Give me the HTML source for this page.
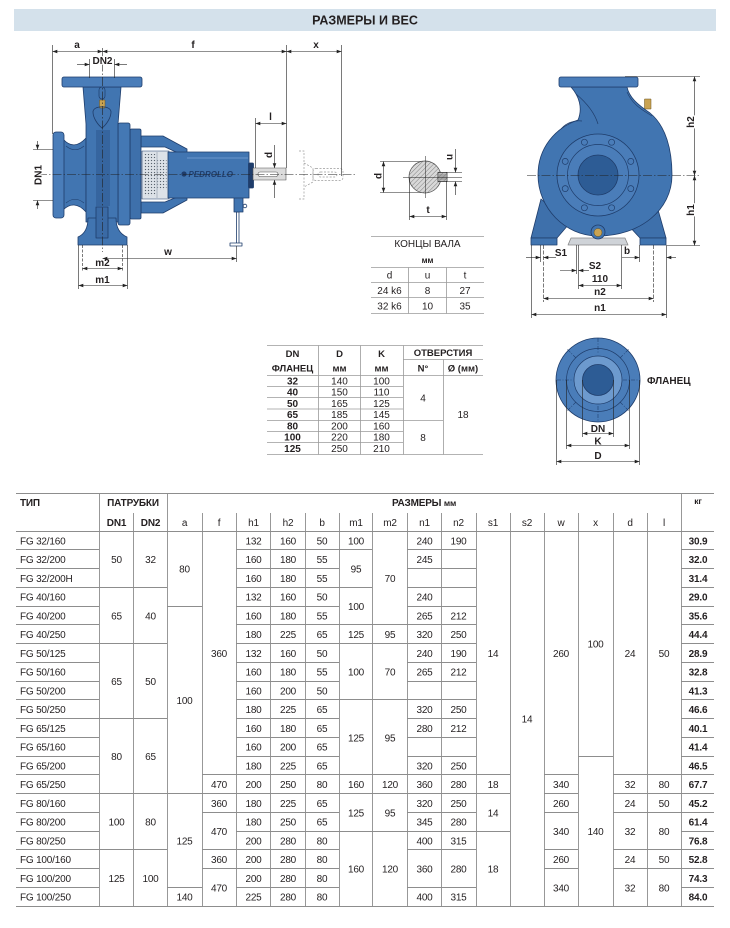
<!DOCTYPE html>
<html><head><meta charset="utf-8"><style>
html,body{margin:0;padding:0;background:#fff;}
svg{display:block;}
text{font-family:"Liberation Sans",sans-serif;fill:#231f20;}
.l{text-anchor:start;}
.b{font-weight:bold;}
</style></head><body>
<svg width="730" height="928" viewBox="0 0 730 928" xmlns="http://www.w3.org/2000/svg">
<defs>
<marker id="a" viewBox="0 0 8 6" refX="8" refY="3" markerWidth="5" markerHeight="3.6" orient="auto-start-reverse" markerUnits="userSpaceOnUse"><path d="M0,0L8,3L0,6z" fill="#222"/></marker>
<pattern id="dots" width="3" height="3" patternUnits="userSpaceOnUse"><circle cx="1.5" cy="1.5" r="0.65" fill="#59636e"/></pattern>
<pattern id="hatch" width="3.2" height="3.2" patternUnits="userSpaceOnUse" patternTransform="rotate(45)"><rect width="3.2" height="3.2" fill="#d8d8d8"/><line x1="0" y1="0" x2="0" y2="3.2" stroke="#6a6a6a" stroke-width="0.8"/></pattern>
</defs>

<!-- header bar -->
<rect x="14" y="9" width="702" height="22" fill="#d4e1eb"/>
<text x="365" y="24.5" text-anchor="middle" font-weight="bold" font-size="12.5">РАЗМЕРЫ И ВЕС</text>

<!-- ================= LEFT PUMP ================= -->
<g fill="none" stroke="#9a9a9a" stroke-width="0.7" stroke-dasharray="2,1.5">
<path d="M299,151 L304,151 L304,199 L299,199"/>
<path d="M304,163 L313,168 L313,182 L304,187"/>
<rect x="313" y="168.5" width="30" height="12" rx="3"/>
<rect x="318" y="172" width="19" height="5" rx="2.5"/>
</g>

<g stroke="#1f3d6b" stroke-width="0.8" stroke-linejoin="round">
<!-- bracket -->
<rect x="236.5" y="212" width="2.5" height="32" fill="#fff"/>
<rect x="230" y="243" width="12" height="3" fill="#fff"/>
<rect x="234" y="197" width="9" height="15" fill="#4175b1"/>
<circle cx="245" cy="206" r="1.8" fill="#fff"/>
<!-- lantern window -->
<rect x="142" y="151" width="27" height="48" fill="#dde2e8" stroke-width="0.6"/>
<rect x="143.5" y="154" width="13" height="42" fill="url(#dots)" stroke="none"/>
<rect x="157.5" y="160" width="9" height="30" fill="url(#dots)" stroke="none"/>
<line x1="157" y1="152" x2="157" y2="198" stroke="#8a96a4" stroke-width="0.6"/>
<!-- arms -->
<path d="M141,136 L163,136 L187,149 L187,157 L165,147 L141,147 Z" fill="#4175b1"/>
<path d="M141,213 L163,213 L187,200 L187,193 L165,202 L141,202 Z" fill="#4175b1"/>
<!-- bearing housing -->
<rect x="168" y="152" width="81" height="46" fill="#4175b1"/>
<line x1="187" y1="158" x2="248" y2="158" stroke="#5d8cc4" stroke-width="1.5"/>
<!-- back covers -->
<rect x="130" y="129" width="11" height="90" rx="1.5" fill="#3e70ab"/>
<rect x="118" y="123" width="12" height="102" rx="2" fill="#4478b4"/>
<!-- suction -->
<path d="M63,139 C70,147 78,147 86,138 L86,212 C78,203 70,203 63,210 Z" fill="#4175b1"/>
<path d="M66,146 C72,151 78,151 84,146 M66,203 C72,198 78,198 84,203" fill="none" stroke-width="0.6"/>
<rect x="53" y="132" width="11" height="86" rx="3" fill="#4a7db9"/>
<!-- volute vertical body -->
<path d="M83,87 L121,87 C120,100 119,112 118,124 L118,222 L86,222 L86,124 C85,112 84,100 83,87 Z" fill="#4175b1"/>
<rect x="96" y="130" width="14" height="76" fill="#36659f" stroke="none"/>
<path d="M88,218 L116,218 C116,228 120,234 127,237 L127,245 L78,245 L78,237 C85,234 88,228 88,218 Z" fill="#4175b1"/>
<rect x="96" y="207" width="12" height="31" fill="#3a6aa5"/>
<rect x="62" y="77" width="80" height="10" rx="2" fill="#4a7db9"/>
<!-- plug + loop -->
<rect x="99" y="87" width="6" height="12" rx="3" fill="none" stroke-width="0.7"/>
<rect x="99.5" y="100" width="5.5" height="8" fill="#c9a352" stroke="#6b5520" stroke-width="0.5"/>
<path d="M93,112 C93,105 111,105 111,112 C111,118 106,125 102,128 C98,125 93,118 93,112 Z" fill="none" stroke-width="0.8"/>
<!-- seal + shaft -->
<rect x="248.5" y="163" width="5" height="25" rx="1" fill="#1f3d6b"/>
<rect x="253" y="168" width="33" height="12" fill="#dcdcdc" stroke="#555" stroke-width="0.6"/>
<rect x="258" y="172" width="20" height="4.5" rx="2.2" fill="#fff" stroke="#555" stroke-width="0.6"/>
</g>
<circle cx="184" cy="174" r="2.6" fill="#1f3d6b"/>
<text x="188.5" y="177" font-size="8" font-weight="bold" font-style="italic" fill="#1f3d6b" style="fill:#1f3d6b">PEDROLLO</text>

<!-- center lines -->
<g stroke="#222" stroke-width="0.6" fill="none" stroke-dasharray="9,2,1.5,2">
<line x1="38" y1="174.5" x2="356" y2="174.5"/>
<line x1="102.5" y1="48" x2="102.5" y2="252"/>
</g>

<!-- left dims -->
<g stroke="#222" stroke-width="0.6" fill="none">
<line x1="52.5" y1="45" x2="52.5" y2="134"/>
<line x1="286.5" y1="45" x2="286.5" y2="168"/>
<line x1="341.5" y1="45" x2="341.5" y2="176"/>
<line x1="52.5" y1="51.5" x2="102.5" y2="51.5" marker-start="url(#a)" marker-end="url(#a)"/>
<line x1="102.5" y1="51.5" x2="286.5" y2="51.5" marker-start="url(#a)" marker-end="url(#a)"/>
<line x1="286.5" y1="51.5" x2="341.5" y2="51.5" marker-start="url(#a)" marker-end="url(#a)"/>
<line x1="89.5" y1="59" x2="89.5" y2="78"/>
<line x1="114.5" y1="59" x2="114.5" y2="78"/>
<line x1="77" y1="64.5" x2="89.5" y2="64.5" marker-end="url(#a)"/>
<line x1="127" y1="64.5" x2="114.5" y2="64.5" marker-end="url(#a)"/>
<line x1="33" y1="149.5" x2="53" y2="149.5"/>
<line x1="33" y1="200.5" x2="53" y2="200.5"/>
<line x1="37.5" y1="141" x2="37.5" y2="149.5" marker-end="url(#a)"/>
<line x1="37.5" y1="209" x2="37.5" y2="200.5" marker-end="url(#a)"/>
<line x1="255.5" y1="118" x2="255.5" y2="168"/>
<line x1="255.5" y1="123.5" x2="286.5" y2="123.5" marker-start="url(#a)" marker-end="url(#a)"/>
<line x1="274.5" y1="145" x2="274.5" y2="168" marker-end="url(#a)"/>
<line x1="274.5" y1="198" x2="274.5" y2="180" marker-end="url(#a)"/>
<line x1="236.5" y1="246" x2="236.5" y2="262"/>
<line x1="102.5" y1="258.5" x2="236.5" y2="258.5" marker-start="url(#a)" marker-end="url(#a)"/>
<line x1="82.5" y1="245" x2="82.5" y2="272" stroke-dasharray="3,1.5"/>
<line x1="122.5" y1="245" x2="122.5" y2="272" stroke-dasharray="3,1.5"/>
<line x1="82.5" y1="268.5" x2="122.5" y2="268.5" marker-start="url(#a)" marker-end="url(#a)"/>
<line x1="78.5" y1="245" x2="78.5" y2="289"/>
<line x1="127.5" y1="245" x2="127.5" y2="289"/>
<line x1="78.5" y1="285.5" x2="127.5" y2="285.5" marker-start="url(#a)" marker-end="url(#a)"/>
</g>
<g font-size="10" font-weight="bold" text-anchor="middle">
<text x="77" y="48">a</text>
<text x="193" y="48">f</text>
<text x="316" y="48">x</text>
<text x="102.5" y="64" style="paint-order:stroke;stroke:#fff;stroke-width:2">DN2</text>
<text transform="translate(41.5,175) rotate(-90)" style="paint-order:stroke;stroke:#fff;stroke-width:2">DN1</text>
<text x="270.5" y="120">l</text>
<text transform="translate(272,155) rotate(-90)">d</text>
<text x="168" y="255">w</text>
<text x="102.5" y="266">m2</text>
<text x="102.5" y="283">m1</text>
</g>

<!-- ================= SHAFT SECTION ================= -->
<g stroke="#222" stroke-width="0.6" fill="none">
<line x1="380" y1="161.5" x2="425" y2="161.5"/>
<line x1="380" y1="192.5" x2="425" y2="192.5"/>
<line x1="383.5" y1="161.5" x2="383.5" y2="192.5" marker-start="url(#a)" marker-end="url(#a)"/>
</g>
<circle cx="425" cy="177" r="16" fill="url(#hatch)" stroke="#444" stroke-width="0.7"/>
<rect x="438" y="172.5" width="9" height="9" fill="url(#hatch)" stroke="#333" stroke-width="0.8"/>
<rect x="439" y="173.5" width="7" height="7" fill="#777" opacity="0.5"/>
<g stroke="#222" stroke-width="0.5" fill="none">
<line x1="403" y1="177.5" x2="462" y2="177.5"/>
<line x1="425.5" y1="156" x2="425.5" y2="198"/>
<line x1="446" y1="172.5" x2="462" y2="172.5"/>
<line x1="446" y1="181.5" x2="462" y2="181.5"/>
</g>
<g stroke="#222" stroke-width="0.6" fill="none">
<line x1="455.5" y1="149" x2="455.5" y2="172.5" marker-end="url(#a)"/>
<line x1="455.5" y1="195" x2="455.5" y2="181.5" marker-end="url(#a)"/>
<line x1="409.5" y1="178" x2="409.5" y2="220"/>
<line x1="446.5" y1="181" x2="446.5" y2="220"/>
<line x1="409.5" y1="216.5" x2="446.5" y2="216.5" marker-start="url(#a)" marker-end="url(#a)"/>
</g>
<g font-size="10" font-weight="bold" text-anchor="middle">
<text transform="translate(381.5,176) rotate(-90)">d</text>
<text transform="translate(452.5,157) rotate(-90)">u</text>
<text x="428" y="213">t</text>
</g>

<!-- shaft table -->
<g stroke="#9a9a9a" stroke-width="0.8" fill="none">
<line x1="371" y1="236.5" x2="484" y2="236.5"/>
<line x1="371" y1="267.5" x2="484" y2="267.5"/>
<line x1="371" y1="282.5" x2="484" y2="282.5"/>
<line x1="371" y1="297.5" x2="484" y2="297.5"/>
<line x1="371" y1="313.5" x2="484" y2="313.5"/>
<line x1="408.5" y1="267.5" x2="408.5" y2="313.5"/>
<line x1="446.5" y1="267.5" x2="446.5" y2="313.5"/>
</g>
<g font-size="10" text-anchor="middle">
<text x="427.5" y="247">КОНЦЫ ВАЛА</text>
<text x="427.5" y="263" font-size="8" font-weight="bold">мм</text>
<text x="389.5" y="278.5">d</text><text x="427.5" y="278.5">u</text><text x="465" y="278.5">t</text>
<text x="389.5" y="294">24 k6</text><text x="427.5" y="294">8</text><text x="465" y="294">27</text>
<text x="389.5" y="309.5">32 k6</text><text x="427.5" y="309.5">10</text><text x="465" y="309.5">35</text>
</g>

<!-- ================= RIGHT PUMP ================= -->
<g stroke="#1f3d6b" stroke-width="0.8" stroke-linejoin="round">
<path d="M541,199 L531,238 L557,238 L569,224 Z" fill="#3e70ab"/>
<path d="M655,199 L666,238 L640,238 L627,224 Z" fill="#3e70ab"/>
<path d="M571,238 L625,238 L628,245 L568,245 Z" fill="#cfd3d8" stroke="#888"/>
<rect x="531" y="238" width="26" height="7" fill="#4175b1"/>
<rect x="640" y="238" width="26" height="7" fill="#4175b1"/>
<rect x="644.5" y="99" width="6.5" height="10" fill="#c9a352" stroke="#6b5520" stroke-width="0.5"/>
<path d="M571,87 L627,87 C629,97 637,104 650,113 C666,126 672,150 672,175 C672,210 640,236 598,236 C565,236 538,208 538,175 C538,148 555,128 578,120 C583,108 579,96 571,87 Z" fill="#4175b1"/>
<path d="M576,94 C588,104 595,114 598,124" fill="none" stroke-width="0.7"/>
<path d="M561,129 C566,123 574,120 582,121" fill="none" stroke-width="0.7"/>
<path d="M627,92 C632,104 642,110 652,116" fill="none" stroke-width="0.6"/>
<rect x="559" y="77" width="79" height="10" rx="2" fill="#4a7db9"/>
<circle cx="598" cy="175" r="41" fill="#4a7db9"/>
<circle cx="598" cy="175" r="30.5" fill="none" stroke-width="0.7"/>
<g fill="#4a7db9" stroke-width="0.7">
<circle cx="584.4" cy="142.2" r="3"/><circle cx="611.6" cy="142.2" r="3"/>
<circle cx="630.8" cy="161.4" r="3"/><circle cx="630.8" cy="188.6" r="3"/>
<circle cx="611.6" cy="207.8" r="3"/><circle cx="584.4" cy="207.8" r="3"/>
<circle cx="565.2" cy="188.6" r="3"/><circle cx="565.2" cy="161.4" r="3"/>
</g>
<circle cx="598" cy="175" r="20" fill="#2d5c95"/>
<circle cx="598" cy="232" r="7" fill="#4175b1"/>
<circle cx="598" cy="232.5" r="4" fill="#c9a352" stroke="#6b5520" stroke-width="0.5"/>
</g>
<line x1="527" y1="175.5" x2="700" y2="175.5" stroke="#222" stroke-width="0.6" stroke-dasharray="9,2,1.5,2"/>
<g stroke="#222" stroke-width="0.6" fill="none">
<line x1="625" y1="76.5" x2="700" y2="76.5"/>
<line x1="667" y1="245.5" x2="700" y2="245.5"/>
<line x1="694.5" y1="76.5" x2="694.5" y2="175.5" marker-start="url(#a)" marker-end="url(#a)"/>
<line x1="694.5" y1="175.5" x2="694.5" y2="245.5" marker-start="url(#a)" marker-end="url(#a)"/>
<line x1="531.5" y1="245" x2="531.5" y2="318"/>
<line x1="540.5" y1="245" x2="540.5" y2="262"/>
<line x1="543.5" y1="245" x2="543.5" y2="302" stroke-dasharray="4,1.5"/>
<line x1="576.5" y1="245" x2="576.5" y2="274"/>
<line x1="578.5" y1="245" x2="578.5" y2="289"/>
<line x1="621.5" y1="245" x2="621.5" y2="289"/>
<line x1="639.5" y1="245" x2="639.5" y2="262"/>
<line x1="653.5" y1="245" x2="653.5" y2="302" stroke-dasharray="4,1.5"/>
<line x1="666.5" y1="245" x2="666.5" y2="318"/>
<line x1="526" y1="257.5" x2="540.5" y2="257.5" marker-end="url(#a)"/>
<line x1="556" y1="257.5" x2="543.5" y2="257.5" marker-end="url(#a)"/>
<line x1="622" y1="257.5" x2="639.5" y2="257.5" marker-end="url(#a)"/>
<line x1="676" y1="257.5" x2="666.5" y2="257.5" marker-end="url(#a)"/>
<line x1="560" y1="270.5" x2="576.5" y2="270.5" marker-end="url(#a)"/>
<line x1="589" y1="270.5" x2="578.5" y2="270.5" marker-end="url(#a)"/>
<line x1="578.5" y1="285.5" x2="621.5" y2="285.5" marker-start="url(#a)" marker-end="url(#a)"/>
<line x1="543.5" y1="298.5" x2="653.5" y2="298.5" marker-start="url(#a)" marker-end="url(#a)"/>
<line x1="531.5" y1="314.5" x2="666.5" y2="314.5" marker-start="url(#a)" marker-end="url(#a)"/>
</g>
<g font-size="10" font-weight="bold" text-anchor="middle">
<text transform="translate(694,122) rotate(-90)" style="paint-order:stroke;stroke:#fff;stroke-width:2.5">h2</text>
<text transform="translate(694,210) rotate(-90)" style="paint-order:stroke;stroke:#fff;stroke-width:2.5">h1</text>
<text x="561" y="256">S1</text>
<text x="627" y="254">b</text>
<text x="595" y="269">S2</text>
<text x="600" y="282">110</text>
<text x="600" y="295">n2</text>
<text x="600" y="311">n1</text>
</g>

<!-- ================= FLANGE TABLE ================= -->
<g stroke="#9a9a9a" stroke-width="0.8" fill="none">
<line x1="267" y1="345.5" x2="483" y2="345.5"/>
<line x1="403" y1="359.5" x2="483" y2="359.5"/>
<line x1="267" y1="375.5" x2="483" y2="375.5"/>
<line x1="267" y1="386.5" x2="403" y2="386.5"/>
<line x1="267" y1="397.5" x2="403" y2="397.5"/>
<line x1="267" y1="409" x2="403" y2="409"/>
<line x1="267" y1="420.5" x2="443" y2="420.5"/>
<line x1="267" y1="431.5" x2="403" y2="431.5"/>
<line x1="267" y1="442.5" x2="403" y2="442.5"/>
<line x1="267" y1="454.5" x2="483" y2="454.5"/>
<line x1="318.5" y1="345.5" x2="318.5" y2="454.5"/>
<line x1="360.5" y1="345.5" x2="360.5" y2="454.5"/>
<line x1="403.5" y1="345.5" x2="403.5" y2="454.5"/>
<line x1="443.5" y1="359.5" x2="443.5" y2="454.5"/>
</g>
<g font-size="9.5" font-weight="bold" text-anchor="middle">
<text x="292.5" y="357">DN</text><text x="292.5" y="371.5">ФЛАНЕЦ</text>
<text x="339.5" y="357">D</text><text x="339.5" y="371.5">мм</text>
<text x="381.5" y="357">K</text><text x="381.5" y="371.5">мм</text>
<text x="443" y="356">ОТВЕРСТИЯ</text>
<text x="423" y="371.5">N°</text><text x="463" y="371.5">Ø (мм)</text>
</g>
<g font-size="10" text-anchor="middle">
<g font-weight="bold"><text x="292.5" y="384.5">32</text><text x="292.5" y="395.5">40</text><text x="292.5" y="407">50</text><text x="292.5" y="418">65</text><text x="292.5" y="429.5">80</text><text x="292.5" y="440.5">100</text><text x="292.5" y="452">125</text></g>
<text x="339.5" y="384.5">140</text><text x="339.5" y="395.5">150</text><text x="339.5" y="407">165</text><text x="339.5" y="418">185</text><text x="339.5" y="429.5">200</text><text x="339.5" y="440.5">220</text><text x="339.5" y="452">250</text>
<text x="381.5" y="384.5">100</text><text x="381.5" y="395.5">110</text><text x="381.5" y="407">125</text><text x="381.5" y="418">145</text><text x="381.5" y="429.5">160</text><text x="381.5" y="440.5">180</text><text x="381.5" y="452">210</text>
<text x="423" y="401.5">4</text><text x="423" y="441">8</text>
<text x="463" y="418">18</text>
</g>

<!-- ================= FLANGE DRAWING ================= -->
<g stroke="#1f3d6b" stroke-width="0.8">
<circle cx="598" cy="380" r="42" fill="#4a7db9"/>
<circle cx="598" cy="380" r="31.5" fill="none" stroke-width="0.7"/>
<circle cx="598" cy="380" r="24" fill="#6d9ace" stroke-width="0.7"/>
<circle cx="598" cy="380" r="15.5" fill="#2d5c95"/>
</g>
<g stroke="#1f3d6b" stroke-width="0.6" fill="none" stroke-dasharray="4,1.5,1,1.5">
<line x1="598" y1="338" x2="598" y2="354"/><line x1="598" y1="406" x2="598" y2="422"/>
<line x1="557" y1="380" x2="573" y2="380"/><line x1="623" y1="380" x2="639" y2="380"/>
<line x1="576" y1="358" x2="567" y2="349"/><line x1="620" y1="358" x2="629" y2="349"/>
<line x1="576" y1="402" x2="567" y2="411"/><line x1="620" y1="402" x2="629" y2="411"/>
</g>
<g stroke="#222" stroke-width="0.6" fill="none">
<line x1="582.5" y1="380" x2="582.5" y2="437"/>
<line x1="613.5" y1="380" x2="613.5" y2="437"/>
<line x1="566.5" y1="380" x2="566.5" y2="449"/>
<line x1="629.5" y1="380" x2="629.5" y2="449"/>
<line x1="556.5" y1="380" x2="556.5" y2="465"/>
<line x1="639.5" y1="380" x2="639.5" y2="465"/>
<line x1="582.5" y1="433.5" x2="613.5" y2="433.5" marker-start="url(#a)" marker-end="url(#a)"/>
<line x1="566.5" y1="445.5" x2="629.5" y2="445.5" marker-start="url(#a)" marker-end="url(#a)"/>
<line x1="556.5" y1="461.5" x2="639.5" y2="461.5" marker-start="url(#a)" marker-end="url(#a)"/>
</g>
<g font-size="10" font-weight="bold" text-anchor="middle">
<text x="598" y="432">DN</text>
<text x="598" y="444.5">K</text>
<text x="598" y="459">D</text>
<text x="647" y="384" class="l">ФЛАНЕЦ</text>
</g>

<!-- ================= MAIN TABLE ================= -->
<g stroke="#8d8d8d" stroke-width="0.9" fill="none">
<path d="M16,493.5H714 M16,531.5H714 M16,906.5H714"/>
<path d="M16,549.5H99 M236,549.5H372 M407,549.5H476 M681,549.5H714"/>
<path d="M16,568.5H99 M236,568.5H339 M407,568.5H476 M681,568.5H714"/>
<path d="M16,587.5H167 M236,587.5H372 M407,587.5H476 M681,587.5H714"/>
<path d="M16,606.5H99 M167,606.5H202 M236,606.5H339 M407,606.5H476 M681,606.5H714"/>
<path d="M16,624.5H99 M236,624.5H476 M681,624.5H714"/>
<path d="M16,643.5H167 M236,643.5H476 M681,643.5H714"/>
<path d="M16,662.5H99 M236,662.5H339 M407,662.5H476 M681,662.5H714"/>
<path d="M16,681.5H99 M236,681.5H339 M407,681.5H476 M681,681.5H714"/>
<path d="M16,699.5H99 M236,699.5H476 M681,699.5H714"/>
<path d="M16,718.5H167 M236,718.5H339 M407,718.5H476 M681,718.5H714"/>
<path d="M16,737.5H99 M236,737.5H339 M407,737.5H476 M681,737.5H714"/>
<path d="M16,756.5H99 M236,756.5H339 M407,756.5H476 M578,756.5H613 M681,756.5H714"/>
<path d="M16,774.5H99 M202,774.5H510 M544,774.5H578 M613,774.5H714"/>
<path d="M16,793.5H510 M544,793.5H578 M613,793.5H714"/>
<path d="M16,812.5H99 M202,812.5H339 M407,812.5H476 M544,812.5H578 M613,812.5H714"/>
<path d="M16,831.5H99 M236,831.5H510 M681,831.5H714"/>
<path d="M16,849.5H167 M202,849.5H339 M407,849.5H476 M544,849.5H578 M613,849.5H714"/>
<path d="M16,868.5H99 M202,868.5H339 M544,868.5H578 M613,868.5H714"/>
<path d="M16,887.5H99 M167,887.5H202 M236,887.5H339 M407,887.5H476 M681,887.5H714"/>
<path d="M99.5,493.5V906.5 M167.5,493.5V906.5 M681.5,493.5V906.5"/>
<path d="M133.5,513V906.5 M202.5,513V906.5 M236.5,513V906.5 M270.5,513V906.5 M305.5,513V906.5 M339.5,513V906.5 M372.5,513V906.5 M407.5,513V906.5 M441.5,513V906.5 M476.5,513V906.5 M510.5,513V906.5 M544.5,513V906.5 M578.5,513V906.5 M613.5,513V906.5 M647.5,513V906.5"/>
</g>

<g font-size="10" text-anchor="middle" letter-spacing="-0.2">
<!-- headers -->
<g font-weight="bold">
<text x="20" y="506" class="l">ТИП</text>
<text x="133" y="506">ПАТРУБКИ</text>
<text x="424" y="506">РАЗМЕРЫ <tspan font-size="8.5">мм</tspan></text>
<text x="698" y="504" font-size="8.5">кг</text>
<text x="116.5" y="526">DN1</text>
<text x="150.5" y="526">DN2</text>
</g>
<text x="184.5" y="526">a</text><text x="219" y="526">f</text><text x="253.5" y="526">h1</text><text x="288" y="526">h2</text><text x="322" y="526">b</text><text x="356" y="526">m1</text><text x="390" y="526">m2</text><text x="424.5" y="526">n1</text><text x="458.5" y="526">n2</text><text x="493" y="526">s1</text><text x="527" y="526">s2</text><text x="561" y="526">w</text><text x="595.5" y="526">x</text><text x="630" y="526">d</text><text x="664" y="526">l</text>

<!-- per-row cells -->
<g transform="translate(0,544.4)"><text x="20" class="l">FG 32/160</text><text x="253.5">132</text><text x="288">160</text><text x="322">50</text><text x="424.5">240</text><text x="458.5">190</text><text x="698" class="b">30.9</text></g>
<g transform="translate(0,563.1)"><text x="20" class="l">FG 32/200</text><text x="253.5">160</text><text x="288">180</text><text x="322">55</text><text x="424.5">245</text><text x="698" class="b">32.0</text></g>
<g transform="translate(0,581.9)"><text x="20" class="l">FG 32/200H</text><text x="253.5">160</text><text x="288">180</text><text x="322">55</text><text x="698" class="b">31.4</text></g>
<g transform="translate(0,600.6)"><text x="20" class="l">FG 40/160</text><text x="253.5">132</text><text x="288">160</text><text x="322">50</text><text x="424.5">240</text><text x="698" class="b">29.0</text></g>
<g transform="translate(0,619.4)"><text x="20" class="l">FG 40/200</text><text x="253.5">160</text><text x="288">180</text><text x="322">55</text><text x="424.5">265</text><text x="458.5">212</text><text x="698" class="b">35.6</text></g>
<g transform="translate(0,638.1)"><text x="20" class="l">FG 40/250</text><text x="253.5">180</text><text x="288">225</text><text x="322">65</text><text x="424.5">320</text><text x="458.5">250</text><text x="698" class="b">44.4</text></g>
<g transform="translate(0,656.9)"><text x="20" class="l">FG 50/125</text><text x="253.5">132</text><text x="288">160</text><text x="322">50</text><text x="424.5">240</text><text x="458.5">190</text><text x="698" class="b">28.9</text></g>
<g transform="translate(0,675.6)"><text x="20" class="l">FG 50/160</text><text x="253.5">160</text><text x="288">180</text><text x="322">55</text><text x="424.5">265</text><text x="458.5">212</text><text x="698" class="b">32.8</text></g>
<g transform="translate(0,694.4)"><text x="20" class="l">FG 50/200</text><text x="253.5">160</text><text x="288">200</text><text x="322">50</text><text x="698" class="b">41.3</text></g>
<g transform="translate(0,713.1)"><text x="20" class="l">FG 50/250</text><text x="253.5">180</text><text x="288">225</text><text x="322">65</text><text x="424.5">320</text><text x="458.5">250</text><text x="698" class="b">46.6</text></g>
<g transform="translate(0,731.9)"><text x="20" class="l">FG 65/125</text><text x="253.5">160</text><text x="288">180</text><text x="322">65</text><text x="424.5">280</text><text x="458.5">212</text><text x="698" class="b">40.1</text></g>
<g transform="translate(0,750.6)"><text x="20" class="l">FG 65/160</text><text x="253.5">160</text><text x="288">200</text><text x="322">65</text><text x="698" class="b">41.4</text></g>
<g transform="translate(0,769.4)"><text x="20" class="l">FG 65/200</text><text x="253.5">180</text><text x="288">225</text><text x="322">65</text><text x="424.5">320</text><text x="458.5">250</text><text x="698" class="b">46.5</text></g>
<g transform="translate(0,788.1)"><text x="20" class="l">FG 65/250</text><text x="219">470</text><text x="253.5">200</text><text x="288">250</text><text x="322">80</text><text x="356">160</text><text x="390">120</text><text x="424.5">360</text><text x="458.5">280</text><text x="493">18</text><text x="561">340</text><text x="630">32</text><text x="664">80</text><text x="698" class="b">67.7</text></g>
<g transform="translate(0,806.9)"><text x="20" class="l">FG 80/160</text><text x="219">360</text><text x="253.5">180</text><text x="288">225</text><text x="322">65</text><text x="424.5">320</text><text x="458.5">250</text><text x="561">260</text><text x="630">24</text><text x="664">50</text><text x="698" class="b">45.2</text></g>
<g transform="translate(0,825.6)"><text x="20" class="l">FG 80/200</text><text x="253.5">180</text><text x="288">250</text><text x="322">65</text><text x="424.5">345</text><text x="458.5">280</text><text x="698" class="b">61.4</text></g>
<g transform="translate(0,844.4)"><text x="20" class="l">FG 80/250</text><text x="253.5">200</text><text x="288">280</text><text x="322">80</text><text x="424.5">400</text><text x="458.5">315</text><text x="698" class="b">76.8</text></g>
<g transform="translate(0,863.1)"><text x="20" class="l">FG 100/160</text><text x="219">360</text><text x="253.5">200</text><text x="288">280</text><text x="322">80</text><text x="561">260</text><text x="630">24</text><text x="664">50</text><text x="698" class="b">52.8</text></g>
<g transform="translate(0,881.9)"><text x="20" class="l">FG 100/200</text><text x="253.5">200</text><text x="288">280</text><text x="322">80</text><text x="698" class="b">74.3</text></g>
<g transform="translate(0,900.6)"><text x="20" class="l">FG 100/250</text><text x="184.5">140</text><text x="253.5">225</text><text x="288">280</text><text x="322">80</text><text x="424.5">400</text><text x="458.5">315</text><text x="698" class="b">84.0</text></g>

<!-- merged cells -->
<text x="116.5" y="563.1">50</text><text x="150.5" y="563.1">32</text>
<text x="116.5" y="619.4">65</text><text x="150.5" y="619.4">40</text>
<text x="116.5" y="685">65</text><text x="150.5" y="685">50</text>
<text x="116.5" y="760">80</text><text x="150.5" y="760">65</text>
<text x="116.5" y="825.6">100</text><text x="150.5" y="825.6">80</text>
<text x="116.5" y="881.9">125</text><text x="150.5" y="881.9">100</text>
<text x="184.5" y="572.5">80</text><text x="184.5" y="703.8">100</text><text x="184.5" y="844.4">125</text>
<text x="219" y="656.9">360</text><text x="219" y="835">470</text><text x="219" y="891.3">470</text>
<text x="356" y="544.4">100</text><text x="356" y="572.5">95</text><text x="356" y="610">100</text><text x="356" y="638.1">125</text><text x="356" y="675.6">100</text><text x="356" y="741.3">125</text><text x="356" y="816.3">125</text><text x="356" y="872.5">160</text>
<text x="390" y="581.9">70</text><text x="390" y="638.1">95</text><text x="390" y="675.6">70</text><text x="390" y="741.3">95</text><text x="390" y="816.3">95</text><text x="390" y="872.5">120</text>
<text x="424.5" y="872.5">360</text><text x="458.5" y="872.5">280</text>
<text x="493" y="656.9">14</text><text x="493" y="816.3">14</text><text x="493" y="872.5">18</text>
<text x="527" y="722.5">14</text>
<text x="561" y="656.9">260</text><text x="561" y="835">340</text><text x="561" y="891.3">340</text>
<text x="595.5" y="647.5">100</text><text x="595.5" y="835">140</text>
<text x="630" y="656.9">24</text><text x="630" y="835">32</text><text x="630" y="891.3">32</text>
<text x="664" y="656.9">50</text><text x="664" y="835">80</text><text x="664" y="891.3">80</text>
</g>
</svg>
</body></html>
